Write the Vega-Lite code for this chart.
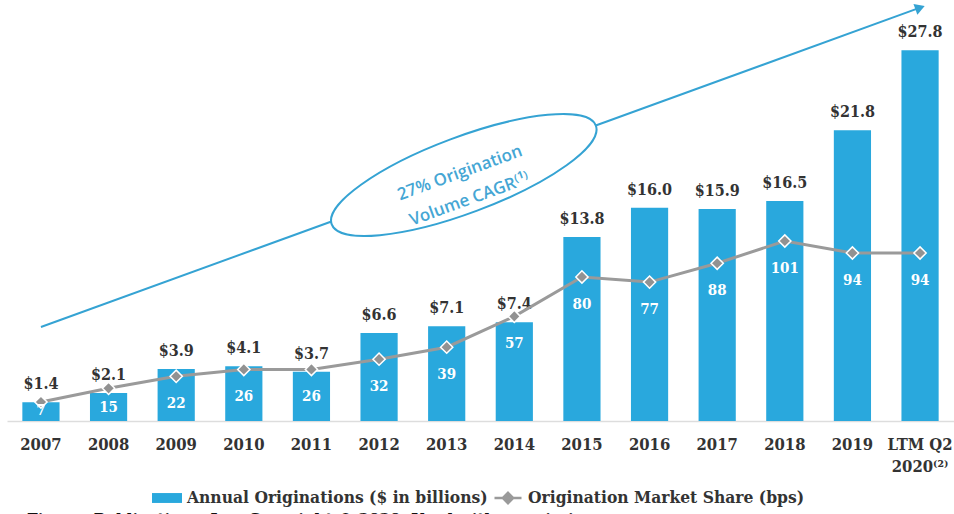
{
  "$schema": "https://vega.github.io/schema/vega-lite/v6.json",
  "width": 947,
  "height": 420,
  "autosize": "none",
  "padding": {"left": 7, "top": 1, "right": 0, "bottom": 93},
  "background": "white",
  "config": {"view": {"stroke": null}},
  "title": {
    "text": "Figure: Publications, Inc. Copyright \u00a9 2020. Used with permission.",
    "orient": "bottom",
    "anchor": "start",
    "dx": 20,
    "offset": 3,
    "font": "DejaVu Serif",
    "fontWeight": "bold",
    "fontSize": 15.2,
    "color": "#111"
  },
  "datasets": {
    "main": [
      {"year": "2007", "amount": 1.4, "share": 7},
      {"year": "2008", "amount": 2.1, "share": 15},
      {"year": "2009", "amount": 3.9, "share": 22},
      {"year": "2010", "amount": 4.1, "share": 26},
      {"year": "2011", "amount": 3.7, "share": 26},
      {"year": "2012", "amount": 6.6, "share": 32},
      {"year": "2013", "amount": 7.1, "share": 39},
      {"year": "2014", "amount": 7.4, "share": 57},
      {"year": "2015", "amount": 13.8, "share": 80},
      {"year": "2016", "amount": 16.0, "share": 77},
      {"year": "2017", "amount": 15.9, "share": 88},
      {"year": "2018", "amount": 16.5, "share": 101},
      {"year": "2019", "amount": 21.8, "share": 94},
      {"year": "LTM Q2 2020", "amount": 27.8, "share": 94}
    ],
    "arrow": [
      {"year": "2007", "year2": "LTM Q2 2020", "y1": 7.05, "y2": 31.0}
    ],
    "ellipse": [
      {"year": "2013", "v": 18.45, "label": "27% Origination\nVolume CAGR\u207d\u00b9\u207e"}
    ]
  },
  "resolve": {"scale": {"y": "independent"}},
  "layer": [
    {
      "data": {"name": "arrow"},
      "mark": {"type": "rule", "color": "#35a3d3", "strokeWidth": 2},
      "encoding": {
        "x": {"field": "year", "type": "nominal"},
        "x2": {"field": "year2"},
        "y": {"field": "y1", "type": "quantitative", "scale": {"domain": [0, 31.5], "nice": false, "zero": false}, "axis": null},
        "y2": {"field": "y2"}
      }
    },
    {
      "data": {"name": "arrow"},
      "mark": {"type": "point", "shape": "triangle-right", "filled": true, "color": "#35a3d3", "size": 130, "angle": -20, "opacity": 1},
      "encoding": {
        "x": {"field": "year2", "type": "nominal"},
        "y": {"field": "y2", "type": "quantitative", "scale": {"domain": [0, 31.5], "nice": false, "zero": false}, "axis": null}
      }
    },
    {
      "data": {"name": "ellipse"},
      "mark": {
        "type": "point",
        "shape": "M-1,0A1,0.27,0,1,0,1,0A1,0.27,0,1,0,-1,0Z",
        "size": 79524,
        "angle": -20.5,
        "fill": "white",
        "fillOpacity": 1,
        "stroke": "#35a3d3",
        "strokeWidth": 2,
        "opacity": 1
      },
      "encoding": {
        "x": {"field": "year", "type": "nominal", "bandPosition": 0.96},
        "y": {"field": "v", "type": "quantitative", "scale": {"domain": [0, 31.5], "nice": false, "zero": false}, "axis": null}
      }
    },
    {
      "data": {"name": "ellipse"},
      "mark": {
        "type": "text",
        "lineBreak": "\n",
        "angle": -20,
        "dx": -3,
        "dy": -3,
        "align": "center",
        "baseline": "middle",
        "lineHeight": 28,
        "font": "Open Sans",
        "fontWeight": 600,
        "fontSize": 17,
        "color": "#45a6d4"
      },
      "encoding": {
        "x": {"field": "year", "type": "nominal", "bandPosition": 0.96},
        "y": {"field": "v", "type": "quantitative", "scale": {"domain": [0, 31.5], "nice": false, "zero": false}, "axis": null},
        "text": {"field": "label"}
      }
    },
    {
      "data": {"name": "main"},
      "mark": {"type": "bar", "width": {"band": 1}},
      "encoding": {
        "x": {
          "field": "year",
          "type": "nominal",
          "sort": null,
          "scale": {
            "domain": ["2007", "2008", "2009", "2010", "2011", "2012", "2013", "2014", "2015", "2016", "2017", "2018", "2019", "LTM Q2 2020"],
            "paddingInner": 0.45,
            "paddingOuter": 0.227
          },
          "axis": {
            "title": null,
            "labelAngle": 0,
            "labelAlign": "center",
            "bandPosition": 0.5,
            "ticks": false,
            "domainColor": "#dddddd",
            "domainWidth": 1.5,
            "labelPadding": 15,
            "labelFont": "DejaVu Serif Condensed",
            "labelFontWeight": "bold",
            "labelFontSize": 16.5,
            "labelColor": "#333333",
            "labelLineHeight": 22,
            "labelBaseline": "top",
            "labelExpr": "datum.value == 'LTM Q2 2020' ? ['LTM Q2', '2020\u207d\u00b2\u207e'] : datum.value"
          }
        },
        "y": {"field": "amount", "type": "quantitative", "scale": {"domain": [0, 31.5], "nice": false, "zero": false}, "axis": null},
        "color": {
          "datum": "Annual Originations ($ in billions)",
          "scale": {"range": ["#29a8dd"]},
          "legend": {
            "title": null,
            "orient": "none",
            "legendX": 145,
            "legendY": 482,
            "symbolType": "M-1,-0.33H1V0.33H-1Z",
            "symbolSize": 900,
            "symbolStrokeWidth": 0,
            "labelFont": "DejaVu Serif Condensed",
            "labelFontWeight": "bold",
            "labelFontSize": 17.3,
            "labelColor": "#333333",
            "labelOffset": 5,
            "labelLimit": 400
          }
        }
      }
    },
    {
      "data": {"name": "main"},
      "mark": {
        "type": "text",
        "dy": -18,
        "baseline": "middle",
        "font": "DejaVu Serif Condensed",
        "fontWeight": "bold",
        "fontSize": 16,
        "color": "#333333"
      },
      "encoding": {
        "x": {"field": "year", "type": "nominal"},
        "y": {"field": "amount", "type": "quantitative", "scale": {"domain": [0, 31.5], "nice": false, "zero": false}, "axis": null},
        "text": {"field": "amount", "type": "quantitative", "format": "$.1f"}
      }
    },
    {
      "data": {"name": "main"},
      "mark": {"type": "line", "strokeWidth": 3},
      "encoding": {
        "x": {"field": "year", "type": "nominal"},
        "y": {"field": "share", "type": "quantitative", "scale": {"domain": [-4.09, 241.1], "nice": false, "zero": false}, "axis": null},
        "stroke": {
          "datum": "Origination Market Share (bps)",
          "scale": {"range": ["#9a9a9a"]},
          "legend": {
            "title": null,
            "orient": "none",
            "legendX": 486,
            "legendY": 482,
            "symbolType": "M-1,0H1M0,-0.38L0.38,0L0,0.38L-0.38,0Z",
            "symbolSize": 729,
            "symbolStrokeWidth": 2.5,
            "symbolFillColor": "#999999",
            "labelFont": "DejaVu Serif Condensed",
            "labelFontWeight": "bold",
            "labelFontSize": 17.3,
            "labelColor": "#333333",
            "labelOffset": 5,
            "labelLimit": 400,
            "encode": {
              "symbols": {
                "update": {
                  "fill": {"value": "#999999"}
                }
              }
            }
          }
        }
      }
    },
    {
      "data": {"name": "main"},
      "mark": {"type": "point", "shape": "diamond", "filled": true, "color": "#929292", "size": 150, "stroke": "white", "strokeWidth": 1.5, "opacity": 1},
      "encoding": {
        "x": {"field": "year", "type": "nominal"},
        "y": {"field": "share", "type": "quantitative", "scale": {"domain": [-4.09, 241.1], "nice": false, "zero": false}, "axis": null}
      }
    },
    {
      "data": {"name": "main"},
      "mark": {
        "type": "text",
        "baseline": "middle",
        "dy": {"expr": "min(27, 1.4 * datum.share - 2)"},
        "font": "DejaVu Serif Condensed",
        "fontWeight": "bold",
        "fontSize": 15,
        "color": "white"
      },
      "encoding": {
        "x": {"field": "year", "type": "nominal"},
        "y": {"field": "share", "type": "quantitative", "scale": {"domain": [-4.09, 241.1], "nice": false, "zero": false}, "axis": null},
        "text": {"field": "share", "type": "quantitative"}
      }
    }
  ]
}
